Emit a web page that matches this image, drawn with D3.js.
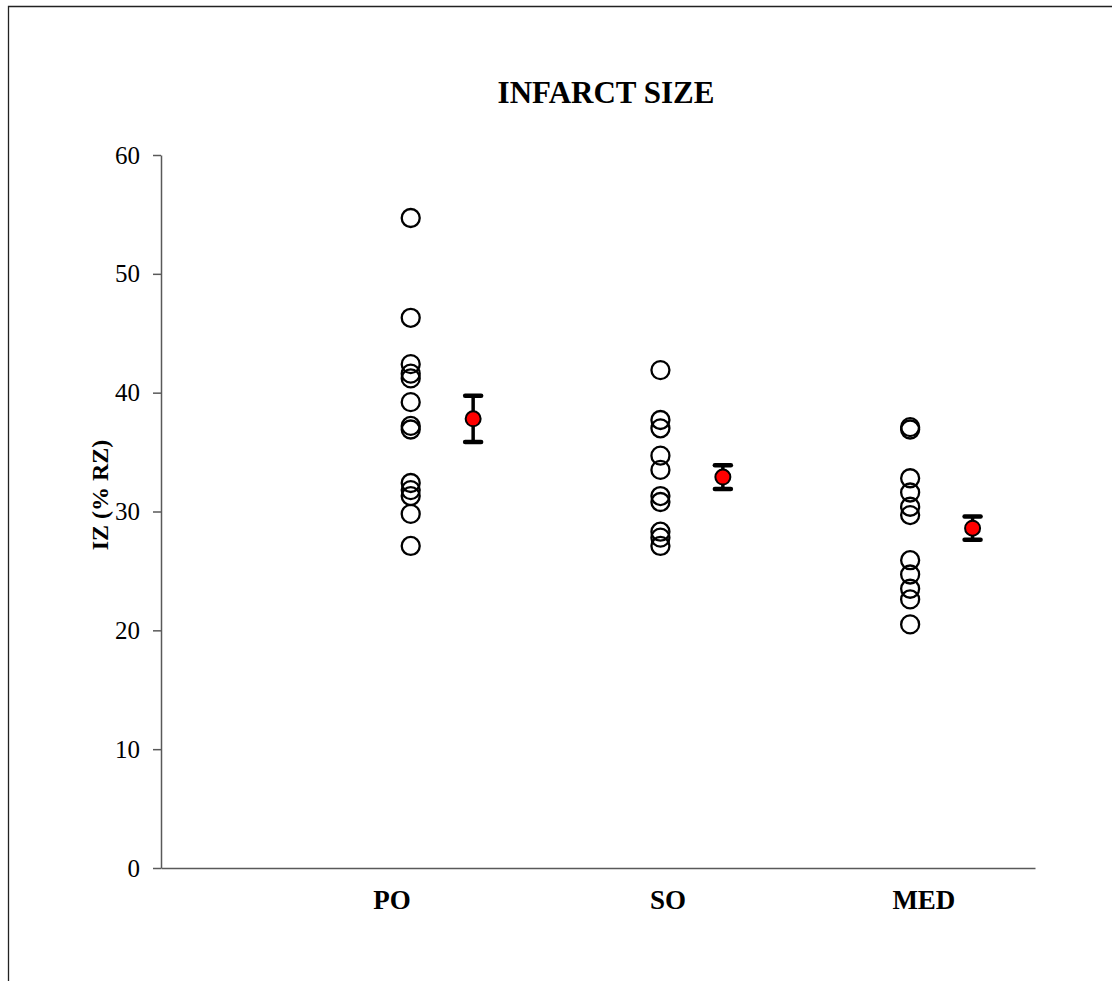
<!DOCTYPE html>
<html>
<head>
<meta charset="utf-8">
<script src="https://cdn.jsdelivr.net/npm/d3@7"></script>
<style>
  html, body { margin: 0; padding: 0; background: #fff; }
  svg { display: block; }
  text { font-family: "Liberation Serif", "Times New Roman", serif; fill: #000; }
</style>
</head>
<body>
<svg id="chart" width="1112" height="981"></svg>
<script>
// ---- data ----
const categories = ["PO", "SO", "MED"];
const groupX = [2, 4, 6];          // x position of individual points (axis units)
const meanX = [2.5, 4.5, 6.5];     // x position of mean markers
const labelX = [1.85, 4.06, 6.11]; // x position of category labels
const poValues  = [54.7, 46.3, 42.4, 41.6, 41.2, 39.2, 37.2, 36.9, 32.4, 31.8, 31.3, 29.8, 27.1];
const soValues  = [41.9, 37.7, 37.0, 34.7, 33.5, 31.3, 30.8, 28.3, 27.8, 27.1];
const medValues = [37.1, 36.9, 32.8, 31.6, 30.4, 29.7, 25.9, 24.7, 23.5, 22.6, 20.5];
const means = [37.8, 32.9, 28.6];
const sems  = [1.95, 1.0, 0.97];
const yTicks = [0, 10, 20, 30, 40, 50, 60];
const title = "INFARCT SIZE";
const yLabel = "IZ (% RZ)";

const groups = [poValues, soValues, medValues];

// ---- layout ----
const svg = d3.select("#chart");
const mLeft = 161, mRight = 1035, mTop = 155, mBottom = 868;

const x = d3.scaleLinear().domain([0, 7]).range([mLeft, mRight]);
const y = d3.scaleLinear().domain([0, 60]).range([mBottom, mTop]);

// outer frame (top and left visible)
svg.append("path")
  .attr("d", `M8.5,${981} L8.5,6.5 L1112,6.5`)
  .attr("fill", "none").attr("stroke", "#222").attr("stroke-width", 1.3);

// title
svg.append("text")
  .attr("x", 606).attr("y", 103)
  .attr("text-anchor", "middle")
  .attr("font-size", 31).attr("font-weight", "bold")
  .text(title);

// y axis
const yAxis = d3.axisLeft(y).tickValues(yTicks).tickSize(8).tickSizeOuter(0).tickPadding(13);
const gy = svg.append("g").attr("transform", `translate(${mLeft},0)`).call(yAxis);
gy.select(".domain").attr("stroke", "#595959").attr("stroke-width", 1.5);
gy.selectAll(".tick line").attr("stroke", "#595959").attr("stroke-width", 1.5);
gy.selectAll(".tick text")
  .attr("font-size", 25)
  .attr("font-family", "Liberation Serif, Times New Roman, serif")
  .attr("fill", "#000");

// x axis (line only)
const xAxis = d3.axisBottom(x).tickValues([]).tickSizeOuter(0);
const gx = svg.append("g").attr("transform", `translate(0,${mBottom})`).call(xAxis);
gx.select(".domain").attr("stroke", "#595959").attr("stroke-width", 1.5);

// y label
svg.append("text")
  .attr("transform", `translate(108,${495}) rotate(-90)`)
  .attr("text-anchor", "middle")
  .attr("font-size", 24).attr("font-weight", "bold")
  .text(yLabel);

// category labels
svg.selectAll(".cat").data(categories).enter().append("text")
  .attr("class", "cat")
  .attr("x", (d, i) => x(labelX[i]))
  .attr("y", 909)
  .attr("text-anchor", "middle")
  .attr("font-size", 27).attr("font-weight", "bold")
  .text(d => d);

// individual points
groups.forEach((vals, gi) => {
  svg.append("g").selectAll("circle").data(vals).enter().append("circle")
    .attr("cx", x(groupX[gi]))
    .attr("cy", d => y(d))
    .attr("r", 9)
    .attr("fill", "none")
    .attr("stroke", "#000")
    .attr("stroke-width", 2.3);
});

// error bars + means
const eb = svg.append("g");
means.forEach((m, i) => {
  const cx = x(meanX[i]);
  const capW = 8;
  eb.append("line")
    .attr("x1", cx).attr("x2", cx)
    .attr("y1", y(m + sems[i])).attr("y2", y(m - sems[i]))
    .attr("stroke", "#000").attr("stroke-width", 3.5);
  [m + sems[i], m - sems[i]].forEach(v => {
    eb.append("line")
      .attr("x1", cx - capW).attr("x2", cx + capW)
      .attr("y1", y(v)).attr("y2", y(v))
      .attr("stroke", "#000").attr("stroke-width", 4.5)
      .attr("stroke-linecap", "round");
  });
  eb.append("circle")
    .attr("cx", cx).attr("cy", y(m)).attr("r", 7.5)
    .attr("fill", "#ff0000").attr("stroke", "#000").attr("stroke-width", 2);
});
</script>
</body>
</html>
